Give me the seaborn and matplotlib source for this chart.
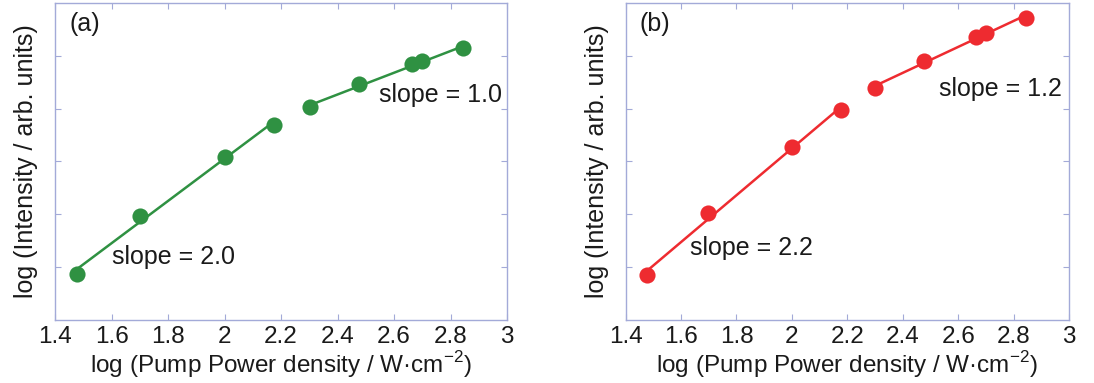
import numpy as np
import pandas as pd
import matplotlib
matplotlib.use("Agg")
import matplotlib.pyplot as plt
import seaborn as sns

# log of pump power density (W/cm^2): 30, 50, 100, 150, 200, 300, 460, 500, 700
log_power = [1.477, 1.699, 2.000, 2.176, 2.301, 2.477, 2.663, 2.699, 2.845]
# log intensity (arb. units), panel (a) and (b)
log_int_a = [0.433, 0.988, 1.543, 1.847, 2.014, 2.229, 2.421, 2.450, 2.570]
log_int_b = [0.426, 1.010, 1.635, 1.989, 2.194, 2.453, 2.680, 2.718, 2.857]
# split index between low- and high-power regimes
split = 4
panel_labels = ["(a)", "(b)"]
slope_texts_a = ["slope = 2.0", "slope = 1.0"]
slope_texts_b = ["slope = 2.2", "slope = 1.2"]
xticks = [1.4, 1.6, 1.8, 2.0, 2.2, 2.4, 2.6, 2.8, 3.0]
xticklabels = ["1.4", "1.6", "1.8", "2", "2.2", "2.4", "2.6", "2.8", "3"]
yticks = [0.5, 1.0, 1.5, 2.0, 2.5]

sns.set_theme(style="white")
plt.rcParams['font.family'] = ['Liberation Sans', 'DejaVu Sans']
plt.rcParams['mathtext.fontset'] = 'custom'
plt.rcParams['mathtext.rm'] = 'Liberation Sans'

green = "#2f9142"
red = "#ee2b30"
spine_c = "#a3aad8"
text_c = "#1a1a1a"

fig = plt.figure(figsize=(10.94, 3.83), dpi=100)
ax_a = fig.add_axes([0.0503, 0.1645, 0.4132, 0.8277])
ax_b = fig.add_axes([0.5719, 0.1645, 0.4052, 0.8277])

panels = [
    (ax_a, log_int_a, green, panel_labels[0], slope_texts_a,
     [(1.60, 0.60), (2.547, 2.13)]),
    (ax_b, log_int_b, red, panel_labels[1], slope_texts_b,
     [(1.632, 0.68), (2.532, 2.19)]),
]

for ax, yvals, col, lab, stexts, spos in panels:
    df = pd.DataFrame({"x": log_power, "y": yvals})
    lo = df.iloc[:split]
    hi = df.iloc[split:]
    for part in (lo, hi):
        sns.regplot(data=part, x="x", y="y", ax=ax, ci=None, truncate=True,
                    color=col, scatter_kws=dict(s=135, linewidths=0, alpha=1, zorder=3),
                    line_kws=dict(lw=1.8, zorder=2))
    ax.set_xlim(1.4, 3.0)
    ax.set_ylim(0, 3)
    ax.set_xticks(xticks)
    ax.set_xticklabels(xticklabels)
    ax.set_yticks(yticks)
    ax.set_yticklabels([])
    ax.tick_params(direction="in", length=4, width=0.8, color=spine_c,
                   top=True, right=True, bottom=True, left=True,
                   labelsize=17.5, labelcolor=text_c, pad=4)
    for sp in ax.spines.values():
        sp.set_color(spine_c)
        sp.set_linewidth(1.0)
    ax.set_xlabel("log (Pump Power density / W·cm$^{\\mathregular{-2}}$)", fontsize=17.5,
                  color=text_c, labelpad=1)
    ax.set_ylabel("log (Intensity / arb. units)", fontsize=18, color=text_c, labelpad=8)
    ax.text(0.031, 0.97, lab, transform=ax.transAxes, fontsize=18, color=text_c,
            ha="left", va="top")
    for t, (tx, ty) in zip(stexts, spos):
        ax.text(tx, ty, t, fontsize=18, color=text_c, ha="left", va="center")

fig.savefig("out.png", dpi=100)
